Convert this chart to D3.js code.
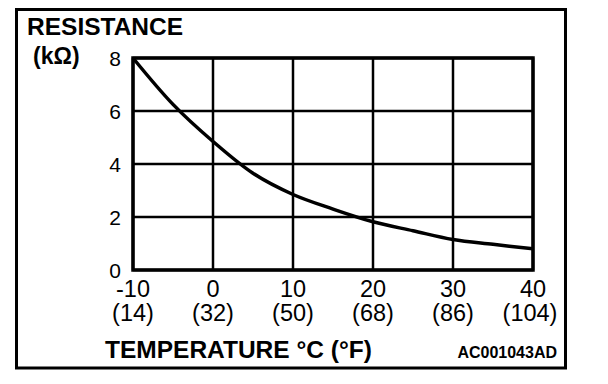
<!DOCTYPE html>
<html>
<head>
<meta charset="utf-8">
<script src="https://cdn.jsdelivr.net/npm/d3@7"></script>
<style>
  body { margin: 0; background: #fff; }
  svg { display: block; }
  text { font-family: "Liberation Sans", Arial, Helvetica, sans-serif; fill: #000; }
</style>
</head>
<body>
<div id="chart"></div>
<script>
const W = 608, H = 384;
const margin = { top: 58, right: 75, bottom: 114, left: 133 };
const width = W - margin.left - margin.right;
const height = H - margin.top - margin.bottom;

// curve (deg C -> kOhm)
const tempC = [-10, -5, 0, 5, 10, 15, 20, 25, 30, 35, 40];
const resistance = [8.0, 6.25, 4.85, 3.65, 2.85, 2.3, 1.82, 1.48, 1.15, 0.97, 0.8];

const xTicks = [-10, 0, 10, 20, 30, 40];
const xTicksF = ["(14)", "(32)", "(50)", "(68)", "(86)", "(104)"];
const yTicks = [0, 2, 4, 6, 8];

const svg = d3.select("#chart")
  .append("svg")
  .attr("width", W)
  .attr("height", H);

// outer frame
svg.append("rect")
  .attr("x", 16.5).attr("y", 9.5)
  .attr("width", 549).attr("height", 358.5)
  .attr("fill", "none")
  .attr("stroke", "#000")
  .attr("stroke-width", 3);

const g = svg.append("g")
  .attr("transform", `translate(${margin.left},${margin.top})`);

const x = d3.scaleLinear().domain([-10, 40]).range([0, width]);
const y = d3.scaleLinear().domain([0, 8]).range([height, 0]);

// grid
g.selectAll(".vgrid")
  .data(xTicks)
  .enter().append("line")
  .attr("x1", d => x(d)).attr("x2", d => x(d))
  .attr("y1", 0).attr("y2", height)
  .attr("stroke", "#000")
  .attr("stroke-width", 2.5);

g.selectAll(".hgrid")
  .data(yTicks)
  .enter().append("line")
  .attr("x1", 0).attr("x2", width)
  .attr("y1", d => y(d)).attr("y2", d => y(d))
  .attr("stroke", "#000")
  .attr("stroke-width", 2.5);

// plot frame
g.append("rect")
  .attr("x", 0).attr("y", 0)
  .attr("width", width).attr("height", height)
  .attr("fill", "none")
  .attr("stroke", "#000")
  .attr("stroke-width", 3.5);

// y tick labels
g.selectAll(".ylab")
  .data(yTicks)
  .enter().append("text")
  .attr("x", -12)
  .attr("y", d => y(d))
  .attr("dy", "0.36em")
  .attr("text-anchor", "end")
  .style("font-size", "21px")
  .text(d => d);

// x tick labels, deg C and deg F
g.selectAll(".xlab")
  .data(xTicks)
  .enter().append("text")
  .attr("x", d => x(d))
  .attr("y", height + 27)
  .attr("text-anchor", "middle")
  .style("font-size", "23.5px")
  .text(d => d);

g.selectAll(".xlabF")
  .data(xTicks)
  .enter().append("text")
  .attr("x", (d, i) => x(d) - (i == 5 ? 3 : 0))
  .attr("y", height + 51)
  .attr("text-anchor", "middle")
  .style("font-size", "23.5px")
  .text((d, i) => xTicksF[i]);

// the curve
const line = d3.line()
  .x((d, i) => x(tempC[i]))
  .y(d => y(d))
  .curve(d3.curveCatmullRom);

g.append("path")
  .datum(resistance)
  .attr("fill", "none")
  .attr("stroke", "#000")
  .attr("stroke-width", 3.5)
  .attr("d", line);

// titles
svg.append("text")
  .attr("x", 27).attr("y", 35)
  .style("font-size", "24.5px")
  .style("font-weight", "bold")
  .text("RESISTANCE");

svg.append("text")
  .attr("x", 33).attr("y", 64)
  .style("font-size", "23px")
  .style("font-weight", "bold")
  .text("(kΩ)");

svg.append("text")
  .attr("x", 105).attr("y", 358)
  .style("font-size", "24.5px")
  .style("font-weight", "bold")
  .text("TEMPERATURE °C (°F)");

svg.append("text")
  .attr("x", 557).attr("y", 358)
  .attr("text-anchor", "end")
  .style("font-size", "16px")
  .style("font-weight", "bold")
  .text("AC001043AD");
</script>
</body>
</html>
